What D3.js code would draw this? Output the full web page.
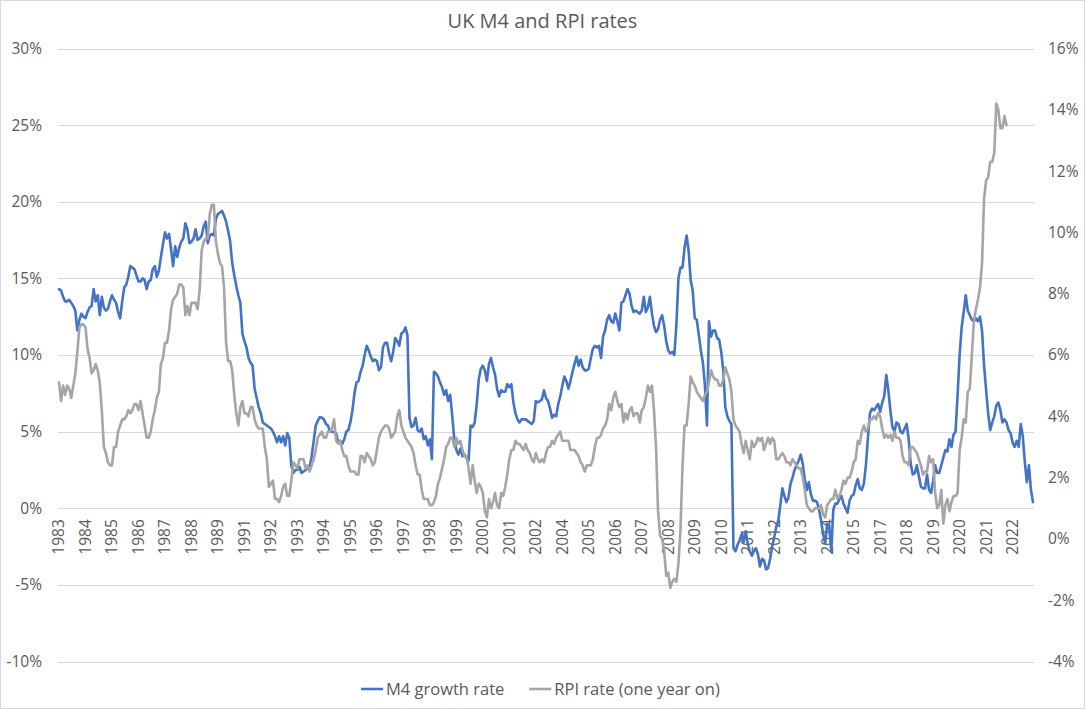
<!DOCTYPE html>
<html><head><meta charset="utf-8">
<script src="https://cdn.jsdelivr.net/npm/d3@7/dist/d3.min.js"></script>
<style>
html,body{margin:0;padding:0;background:#fff;}
svg{display:block;}
text{font-family:"Open Sans",sans-serif;fill:#595959;}
</style></head>
<body>
<svg id="chart" width="1085" height="709"></svg>
<script>
// ---------- data ----------
const title = "UK M4 and RPI rates";
const seriesNames = ["M4 growth rate", "RPI rate (one year on)"];
// monthly categories, first one June 1983
const startYear = 1983, startMonth = 6;
const labelEvery = 13;
const tickYears = ["1983","1984","1985","1986","1987","1988","1989","1991","1992","1993",
  "1994","1995","1996","1997","1998","1999","2000","2001","2002","2004","2005","2006",
  "2007","2008","2009","2010","2011","2012","2013","2014","2015","2017","2018","2019",
  "2020","2021","2022"];
const leftTicks = [-10,-5,0,5,10,15,20,25,30];
const rightTicks = [-4,-2,0,2,4,6,8,10,12,14,16];

// M4 growth rate, % (left axis), Jun 1983 onward
const m4Growth = [
 14.3,14.2,13.8,13.5,13.5,13.6,13.4,13.2,12.9,11.6,12.3,12.7,
 12.5,12.4,12.8,13.1,13.2,14.3,13.5,13.9,12.6,13.8,13.1,12.9,
 13.0,13.5,13.9,13.6,13.4,12.8,12.4,13.5,14.4,14.6,15.1,15.8,
 15.7,15.6,15.2,14.8,14.8,15.0,14.9,14.3,14.8,14.9,15.6,15.8,
 15.1,15.5,16.4,17.2,18.0,17.6,17.9,16.9,15.8,17.1,16.4,17.0,
 17.4,17.6,18.6,18.2,17.3,17.4,17.6,18.2,17.5,17.6,17.8,18.4,
 18.7,17.3,17.8,17.9,17.8,18.9,19.2,19.3,19.4,19.1,18.7,18.1,
 17.4,16.0,15.2,14.5,13.9,13.4,11.4,10.9,10.5,9.8,9.5,9.3,
 7.8,7.2,6.6,6.2,5.6,5.5,5.4,5.3,5.2,5.0,4.7,4.3,
 4.7,4.3,4.7,4.1,4.9,4.6,2.8,2.3,2.5,2.5,2.7,2.3,
 2.4,2.5,2.6,2.7,3.4,4.4,5.4,5.7,5.95,5.9,5.8,5.5,
 5.4,5.0,5.0,4.95,
 4.9,4.3,4.4,4.2,4.5,5.0,5.1,5.6,6.4,7.5,8.2,8.3,
 8.9,9.3,10.0,10.6,10.3,9.9,9.6,9.7,9.6,9.0,9.2,10.5,
 10.8,10.8,10.1,9.6,10.2,11.1,10.9,10.6,11.4,11.5,11.8,11.3,
 5.9,5.3,5.4,5.9,5.1,5.0,5.2,4.5,4.7,4.1,4.5,3.2,
 8.9,8.8,8.6,8.2,7.9,7.4,7.7,7.0,7.4,6.0,4.5,3.8,
 3.5,3.9,3.4,3.5,3.3,3.1,5.4,5.3,5.6,6.8,8.4,9.1,
 9.3,9.0,8.3,9.4,9.8,9.2,8.7,7.8,7.3,7.7,7.6,7.6,
 8.1,7.9,8.1,6.9,6.2,5.8,5.6,5.8,5.8,5.8,5.7,5.6,
 5.5,5.7,7.0,6.9,7.0,7.1,7.7,7.2,7.0,6.5,5.9,6.1,
 6.0,6.8,7.3,8.0,8.6,8.3,7.8,8.3,8.9,9.4,9.9,9.3,
 9.7,9.2,9.0,9.0,9.1,9.8,10.4,10.6,10.5,10.6,9.8,11.2,
 11.6,12.3,12.6,12.2,12.1,12.7,12.2,11.6,13.4,13.5,13.9,14.3,
 14.0,13.2,12.8,12.9,12.8,12.7,12.9,13.8,12.8,13.1,13.8,12.7,
 11.9,11.5,11.7,12.3,12.6,11.9,10.9,10.3,10.1,10.2,10.0,12.0,
 15.0,15.7,15.7,17.0,17.8,16.8,14.9,14.2,12.4,12.3,11.3,10.3,
 9.5,8.0,5.4,12.2,11.2,11.6,11.6,11.1,11.0,10.2,9.0,6.6,
 6.0,5.7,5.5,-2.6,-2.8,-2.4,-2.1,-1.7,-2.2,-1.5,-2.3,-2.8,
 -3.1,-2.8,-2.6,-3.0,-3.8,-3.3,-3.4,-4.0,-3.9,-3.3,-2.5,-1.9,
 -1.2,-0.8,0.2,1.3,0.8,0.4,0.7,1.6,2.0,2.5,2.8,3.1,
 3.5,2.9,1.9,1.2,1.7,0.9,0.5,0.5,0.4,-0.1,-0.8,-1.7,
 -2.3,-1.0,-1.2,-2.8,-0.1,0.3,0.3,0.6,0.8,0.3,0.0,-0.3,
 0.5,0.8,0.9,1.5,1.9,1.3,1.2,1.6,2.8,4.6,6.2,6.5,
 6.4,6.6,
 6.8,6.3,6.9,7.3,8.7,7.7,6.4,5.3,5.0,5.6,5.5,5.0,
 4.9,5.2,5.5,4.5,2.9,2.2,2.3,2.8,2.1,1.4,1.3,1.3,
 2.2,1.2,1.0,1.8,2.8,2.3,2.3,2.8,3.3,3.8,3.7,4.5,
 4.0,4.8,5.0,7.4,10.0,11.8,12.8,13.9,12.9,12.6,12.3,12.2,
 12.4,12.2,12.5,11.6,9.3,7.7,6.2,5.1,5.6,6.0,6.7,6.9,
 6.4,5.6,5.8,5.6,5.1,4.9,4.3,4.0,4.4,4.0,5.5,4.7,
 3.0,1.7,2.8,1.2,0.4
];

// RPI annual rate twelve months later, % (right axis), Jun 1983 onward
const rpiOneYearOn = [
 5.1,4.5,5.0,4.7,5.0,4.9,4.6,
 5.0,5.4,6.1,6.9,7.0,7.0,6.9,6.2,5.9,5.4,5.5,5.7,
 5.5,5.1,4.2,3.0,2.8,2.5,2.4,2.4,3.0,3.0,3.5,3.7,
 3.9,3.9,4.0,4.2,4.1,4.2,4.4,4.4,4.2,4.5,4.1,3.7,
 3.3,3.3,3.5,3.9,4.2,4.6,4.8,5.7,5.9,6.4,6.4,6.8,
 7.5,7.8,7.9,8.0,8.3,8.3,8.2,7.3,7.6,7.3,7.7,7.7,
 7.7,7.5,8.1,9.4,9.7,9.8,9.8,10.6,10.9,10.9,9.7,9.3,
 9.0,8.9,8.2,6.4,5.8,5.8,5.5,4.7,4.1,3.7,4.3,4.5,
 4.1,4.1,4.0,4.3,4.3,3.9,3.7,3.6,3.6,3.6,3.0,2.6,
 1.7,1.8,1.9,1.3,1.3,1.2,1.4,1.7,1.8,1.4,1.4,1.9,
 2.5,2.4,2.3,2.6,2.6,2.6,2.3,2.4,2.2,2.4,2.6,2.9,
 3.3,3.4,3.5,3.3,3.3,3.5,3.5,3.6,3.9,3.2,3.1,3.2,
 2.9,2.7,2.7,2.4,2.2,2.2,2.2,2.1,2.1,2.7,2.7,2.5,
 2.8,2.7,2.6,2.4,2.5,2.9,3.3,3.5,3.6,3.7,3.7,3.6,
 3.3,3.4,3.5,4.0,4.2,3.7,3.5,3.3,3.2,3.1,3.0,2.8,
 2.4,2.1,2.1,1.6,1.3,1.3,1.3,1.1,1.1,1.2,1.4,1.8,
 2.0,2.3,2.6,3.0,3.1,3.3,3.3,3.0,3.3,3.1,3.2,2.9,
 2.7,2.7,2.3,1.8,2.4,1.9,1.5,1.8,1.7,1.5,0.9,0.7,
 1.3,1.0,1.2,1.5,1.1,1.0,1.5,1.4,1.7,2.1,2.6,2.9,
 2.9,3.2,3.1,3.1,3.0,2.9,3.1,2.9,2.8,2.6,2.5,2.8,
 2.6,2.5,2.6,2.5,2.8,3.0,3.0,3.2,3.1,3.3,3.4,3.5,
 3.2,3.2,3.2,3.2,2.9,2.9,2.9,2.8,2.7,2.5,2.4,2.2,
 2.4,2.4,2.4,2.6,3.0,3.3,3.3,3.4,3.6,3.7,3.9,4.4,
 4.2,4.6,4.8,4.5,4.3,4.4,3.8,4.1,3.9,4.2,4.3,4.0,
 4.1,4.1,3.8,4.2,4.3,4.6,5.0,4.8,5.0,4.2,3.0,0.9,
 0.1,0.0,-0.4,-1.2,-1.1,-1.6,-1.4,-1.3,-1.4,-0.8,0.3,2.4,
 3.7,3.7,4.4,5.3,5.1,5.0,4.8,4.7,4.6,4.5,4.7,4.8,
 5.1,5.5,5.3,5.2,5.2,5.0,5.0,5.2,5.6,5.4,5.2,4.8,
 3.9,3.7,3.6,3.5,3.1,2.8,3.2,2.9,2.6,3.2,3.0,3.1,
 3.3,3.2,3.3,2.9,3.1,3.3,3.1,3.3,3.2,2.6,2.6,2.7,
 2.8,2.7,2.5,2.5,2.4,2.6,2.5,2.4,2.3,2.3,2.0,1.6,
 1.1,1.0,0.9,0.9,1.0,1.0,1.0,1.1,0.8,0.7,1.1,1.2,
 1.3,1.3,1.6,1.3,1.4,1.6,1.9,1.8,2.0,2.0,2.2,2.5,
 2.6,3.2,3.1,3.5,3.7,3.5,3.6,3.9,3.9,4.0,3.9,4.1,
 4.0,3.6,3.3,3.4,3.3,3.4,3.2,3.5,3.3,3.3,3.2,2.7,
 2.5,2.5,2.4,3.0,3.0,2.9,2.8,2.6,2.4,2.1,2.2,2.2,
 2.7,2.5,2.6,1.5,1.0,1.1,1.6,0.5,1.1,1.3,0.9,1.2,
 1.4,1.4,1.5,2.9,3.3,3.9,3.8,4.8,4.9,6.0,7.1,7.5,
 7.8,8.2,9.0,11.1,11.7,11.8,12.3,12.3,12.6,14.2,14.0,13.4,
 13.4,13.8,13.5
];

// ---------- chart ----------
const W = 1085, H = 709;
const plot = {left: 58, right: 1034, top: 48.5, bottom: 661.5};
const colors = {m4: "#4472C4", rpi: "#A5A5A5", grid: "#D9D9D9", text: "#595959"};
const tickFont = 15.5;

const svg = d3.select("#chart");
svg.append("rect").attr("x",0.5).attr("y",0.5).attr("width",W-1).attr("height",H-1)
  .attr("fill","#fff").attr("stroke","#D9D9D9");

const n = m4Growth.length;
const categories = d3.range(n).map(i => new Date(startYear, startMonth - 1 + i, 1));
const x = d3.scaleBand().domain(d3.range(n)).range([plot.left, plot.right]).paddingInner(0).paddingOuter(0);
const xc = i => x(i) + x.bandwidth() / 2;
const yL = d3.scaleLinear().domain([-10, 30]).range([plot.bottom, plot.top]);
const yR = d3.scaleLinear().domain([-4, 16]).range([plot.bottom, plot.top]);

// gridlines
svg.append("g").selectAll("line").data(leftTicks).join("line")
  .attr("x1", plot.left).attr("x2", plot.right)
  .attr("y1", d => Math.round(yL(d)) + 0.5).attr("y2", d => Math.round(yL(d)) + 0.5)
  .attr("stroke", colors.grid).attr("stroke-width", 1);

// left axis
const gL = svg.append("g").attr("transform", `translate(${plot.left},0)`)
  .call(d3.axisLeft(yL).tickValues(leftTicks).tickSize(0).tickPadding(16).tickFormat(d => d + "%"));
gL.select(".domain").remove();
gL.selectAll("text").attr("font-family", '"Open Sans",sans-serif').attr("font-size", tickFont).attr("fill", colors.text);

// right axis
const gR = svg.append("g").attr("transform", `translate(${plot.right},0)`)
  .call(d3.axisRight(yR).tickValues(rightTicks).tickSize(0).tickPadding(14).tickFormat(d => d + "%"));
gR.select(".domain").remove();
gR.selectAll("text").attr("font-family", '"Open Sans",sans-serif').attr("font-size", tickFont).attr("fill", colors.text);

// category axis (labels every 13 months)
const labelIdx = d3.range(0, n, labelEvery).slice(0, tickYears.length);
const gX = svg.append("g").attr("transform", `translate(0,${yL(0)})`)
  .call(d3.axisBottom(x).tickValues(labelIdx).tickSize(0).tickFormat(d => tickYears[labelIdx.indexOf(d)]));
gX.select(".domain").remove();
gX.selectAll("text")
  .attr("font-family", '"Open Sans",sans-serif').attr("font-size", tickFont).attr("fill", colors.text)
  .attr("transform", "rotate(-90)")
  .attr("text-anchor", "end")
  .attr("x", -11).attr("y", 0).attr("dy", "0.35em");

// lines
const lineL = d3.line().x((d, i) => xc(i)).y(d => yL(d));
const lineR = d3.line().x((d, i) => xc(i)).y(d => yR(d));
svg.append("path").datum(m4Growth).attr("d", lineL)
  .attr("fill", "none").attr("stroke", colors.m4).attr("stroke-width", 2.6)
  .attr("stroke-linejoin", "round").attr("stroke-linecap", "round");
svg.append("path").datum(rpiOneYearOn).attr("d", lineR)
  .attr("fill", "none").attr("stroke", colors.rpi).attr("stroke-width", 2.6)
  .attr("stroke-linejoin", "round").attr("stroke-linecap", "round");

// title
svg.append("text").attr("x", 542.5).attr("y", 28).attr("text-anchor", "middle")
  .attr("font-size", 20).attr("fill", colors.text).text(title);

// legend
const legY = 689;
const legColors = [colors.m4, colors.rpi];
const lg = svg.append("g");
let lx = 361;
seriesNames.forEach((name, k) => {
  lg.append("line").attr("x1", lx).attr("x2", lx + 22).attr("y1", legY).attr("y2", legY)
    .attr("stroke", legColors[k]).attr("stroke-width", 2.6);
  const t = lg.append("text").attr("x", lx + 25).attr("y", legY).attr("dy", "0.35em")
    .attr("font-size", 16.5).attr("fill", colors.text).text(name);
  lx = lx + 25 + t.node().getComputedTextLength() + 25;
});
</script>
</body></html>
